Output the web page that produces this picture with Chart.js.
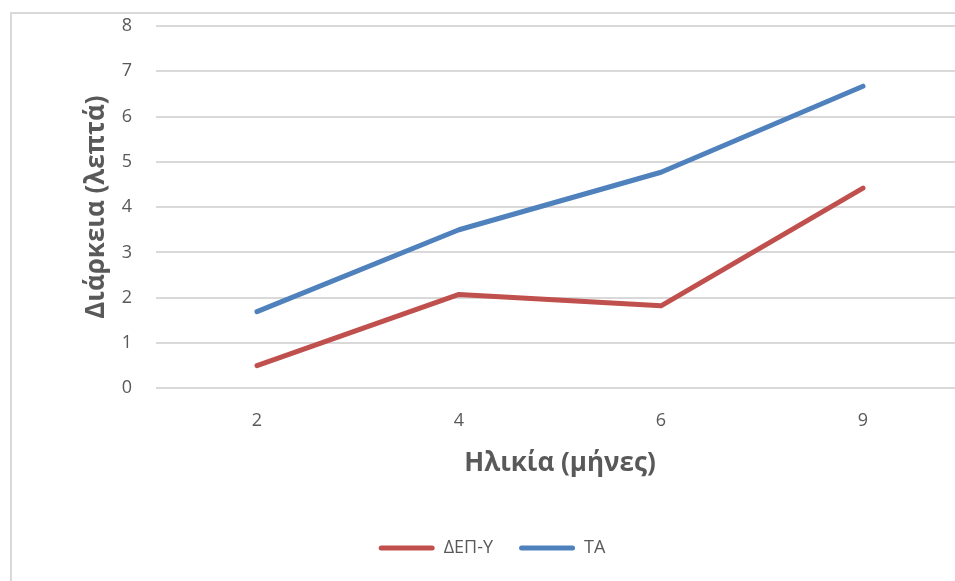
<!DOCTYPE html>
<html>
<head>
<meta charset="utf-8">
<script src="https://cdn.jsdelivr.net/npm/chart.js@4"></script>
<style>
html,body{margin:0;padding:0;background:#fff;overflow:hidden;}
#wrap{position:relative;width:955px;height:581px;overflow:hidden;}
#frame{position:absolute;left:10px;top:12px;width:1000px;height:600px;border:2px solid #d9d9d9;box-sizing:border-box;}
#chart{position:absolute;left:0;top:0;}
</style>
</head>
<body>
<div id="wrap">
<div id="frame"></div>
<canvas id="chart" width="975" height="581"></canvas>
</div>
<script>
// data
const ages=["2","4","6","9"];
const adhd=[0.5,2.07,1.82,4.42];
const typical=[1.69,3.5,4.77,6.67];
const seriesNames=["ΔΕΠ-Υ","ΤΑ"];
const colors=["#C0504D","#4F81BD"];

const font="'Open Sans', sans-serif";
const grey="#595959";

new Chart(document.getElementById("chart"),{
    type:"line",
    data:{
        labels:ages,
        datasets:[
            {label:seriesNames[0],data:adhd,borderColor:colors[0],backgroundColor:colors[0],borderWidth:5,pointRadius:0,borderCapStyle:"round",borderJoinStyle:"round",tension:0},
            {label:seriesNames[1],data:typical,borderColor:colors[1],backgroundColor:colors[1],borderWidth:5,pointRadius:0,borderCapStyle:"round",borderJoinStyle:"round",tension:0}
        ]
    },
    options:{
        responsive:false,
        animation:false,
        devicePixelRatio:1,
        layout:{padding:{left:20,top:26,right:11,bottom:14}},
        plugins:{
            tooltip:{enabled:false},
            legend:{
                position:"bottom",
                labels:{
                    color:grey,
                    font:{family:font,size:18},
                    boxWidth:56,
                    boxHeight:5,
                    padding:26,
                    generateLabels:(chart)=>chart.data.datasets.map((d,i)=>({
                        text:d.label,
                        fillStyle:d.borderColor,
                        strokeStyle:d.borderColor,
                        lineWidth:0,
                        borderRadius:2.5,
                        fontColor:grey,
                        datasetIndex:i,
                        hidden:false
                    }))
                }
            }
        },
        scales:{
            x:{
                offset:true,
                grid:{display:false,drawTicks:false},
                border:{display:false},
                ticks:{color:grey,font:{family:font,size:18},padding:22},
                title:{display:true,text:"Ηλικία (μήνες)",color:grey,font:{family:font,size:26,weight:"bold"},padding:{top:-6,bottom:34}}
            },
            y:{
                min:0,max:8,
                afterFit:(s)=>{s.width=136;s.paddingTop=0;s.paddingBottom=0;},
                grid:{color:"#d9d9d9",lineWidth:2,drawTicks:false},
                border:{display:false},
                ticks:{stepSize:1,color:grey,font:{family:font,size:18},padding:24},
                title:{display:true,text:"Διάρκεια (λεπτά)",color:grey,font:{family:font,size:26,weight:"bold"},padding:{top:61,bottom:0}}
            }
        }
    }
});
</script>
</body>
</html>
